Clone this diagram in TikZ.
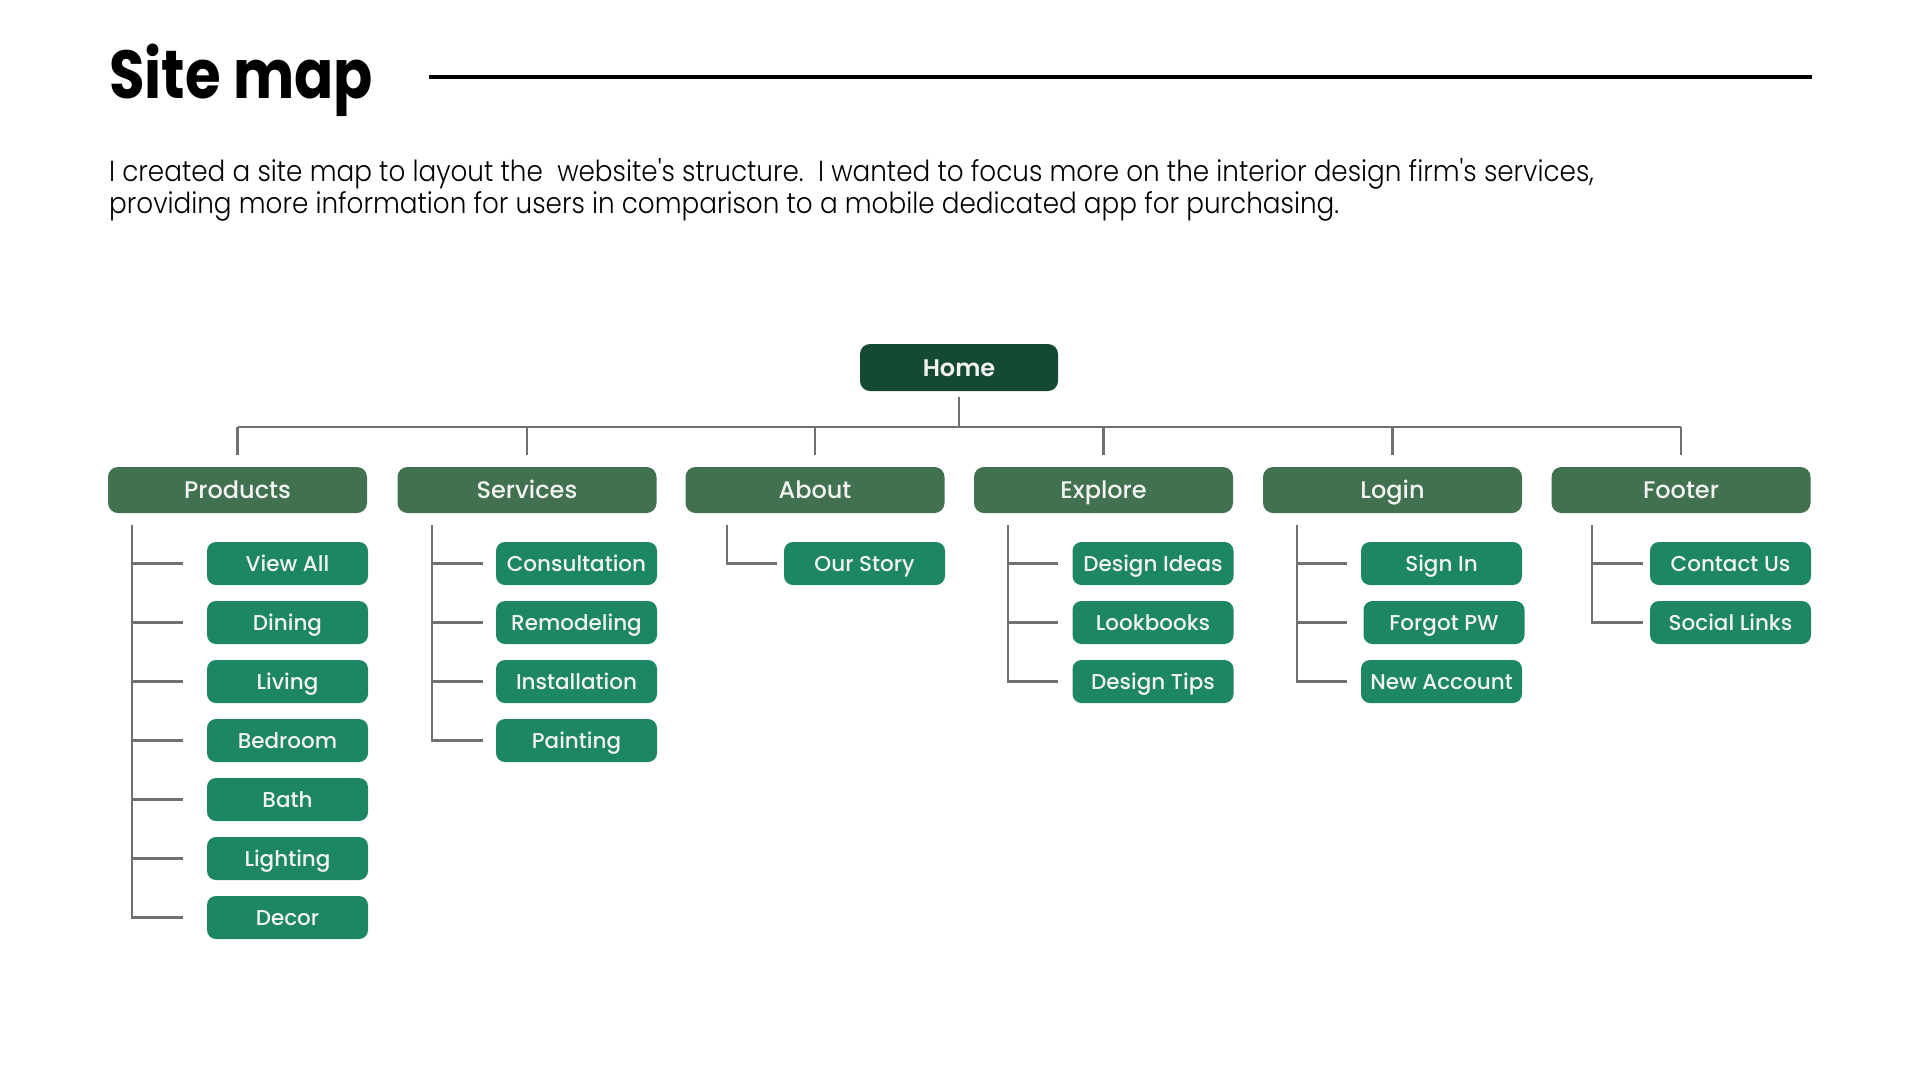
\documentclass[tikz,border=0pt]{standalone}
\usepackage{fontspec}
\newfontfamily\titlefont{Poppins Bold}[FakeStretch=0.85]
\newfontfamily\bodyfont{Poppins Light}[FakeStretch=0.905]
\newfontfamily\medfont{Poppins Medium}
\newfontfamily\semifont{Poppins SemiBold}
\definecolor{homegreen}{HTML}{134A31}
\definecolor{catgreen}{HTML}{41714F}
\definecolor{itemgreen}{HTML}{1C8760}
\definecolor{linegray}{HTML}{707070}
\definecolor{labelwhite}{HTML}{F2F2F2}
\begin{document}
\begin{tikzpicture}[x=1pt,y=1pt,
  conn/.style={draw=linegray, line width=2.2pt},
  homebox/.style={fill=homegreen, rounded corners=10pt, minimum width=198pt, minimum height=47pt, inner sep=0pt, text=labelwhite, font=\semifont\fontsize{24}{24}\selectfont, text height=17pt, text depth=0pt},
  catbox/.style={fill=catgreen, rounded corners=10pt, minimum width=259pt, minimum height=46pt, inner sep=0pt, text=labelwhite, font=\medfont\fontsize{24}{24}\selectfont, text height=17pt, text depth=0pt},
  itembox/.style={fill=itemgreen, rounded corners=9pt, minimum width=161pt, minimum height=43pt, inner sep=0pt, text=labelwhite, font=\medfont\fontsize{21.5}{21.5}\selectfont, text height=15pt, text depth=0pt},
  txt/.style={anchor=base west, inner sep=0pt, text=black}]
\useasboundingbox[fill=white] (0,0) rectangle (1920,-1080);

% title and rule
\node[txt, font=\titlefont\fontsize{68}{68}\selectfont] (title) at (109,-98) {Site map};
\coordinate (rl) at (429,-77);
\coordinate (rr) at (1812,-77);
\draw[line width=3.5pt] (rl) -- (rr);

% description
\node[txt, font=\bodyfont\fontsize{29}{32}\selectfont] (desc1) at (109,-181) {I created a site map to layout the\ \ website's structure.\ \ I wanted to focus more on the interior design firm's services,};
\node[txt, font=\bodyfont\fontsize{29}{32}\selectfont] (desc2) at (109,-213) {providing more information for users in comparison to a mobile dedicated app for purchasing.};

% home and categories
\node[homebox] (home) at (959,-367.5) {Home};
\node[catbox] (prod) at (237.5,-490) {Products};
\node[catbox] (serv) at (527,-490) {Services};
\node[catbox] (about) at (815,-490) {About};
\node[catbox] (expl) at (1103.5,-490) {Explore};
\node[catbox] (login) at (1392.5,-490) {Login};
\node[catbox] (foot) at (1681,-490) {Footer};

% bus
\draw[conn] ([yshift=-6pt]home.south) -- (home.south |- 0,-427);
\draw[conn] (prod.north |- 0,-427) -- (foot.north |- 0,-427);
\foreach \c in {prod,serv,about,expl,login,foot}
  \draw[conn] (\c.north |- 0,-427) -- ([yshift=12pt]\c.north);

% items: Products
\node[itembox] (viewall) at (287.5,-563.5) {View All};
\node[itembox] (dining) at (287.5,-622.5) {Dining};
\node[itembox] (living) at (287.5,-681.5) {Living};
\node[itembox] (bedroom) at (287.5,-740.5) {Bedroom};
\node[itembox] (bath) at (287.5,-799.5) {Bath};
\node[itembox] (lighting) at (287.5,-858.5) {Lighting};
\node[itembox] (decor) at (287.5,-917.5) {Decor};
% Services
\node[itembox] (consult) at (576.5,-563.5) {Consultation};
\node[itembox] (remodel) at (576.5,-622.5) {Remodeling};
\node[itembox] (install) at (576.5,-681.5) {Installation};
\node[itembox] (paint) at (576.5,-740.5) {Painting};
% About
\node[itembox] (story) at (864.5,-563.5) {Our Story};
% Explore
\node[itembox] (ideas) at (1153,-563.5) {Design Ideas};
\node[itembox] (lookb) at (1153,-622.5) {Lookbooks};
\node[itembox] (tips) at (1153,-681.5) {Design Tips};
% Login
\node[itembox] (signin) at (1441.5,-563.5) {Sign In};
\node[itembox] (forgot) at (1444,-622.5) {Forgot PW};
\node[itembox] (newacc) at (1441.5,-681.5) {New Account};
% Footer
\node[itembox] (contact) at (1730.5,-563.5) {Contact Us};
\node[itembox] (social) at (1730.5,-622.5) {Social Links};

% spines
\coordinate (pS) at (132,-525);  \coordinate (pE) at (183,-525);
\coordinate (sS) at (432,-525);  \coordinate (sE) at (483,-525);
\coordinate (aS) at (727,-525);  \coordinate (aE) at (777,-525);
\coordinate (eS) at (1008,-525); \coordinate (eE) at (1058,-525);
\coordinate (lS) at (1297,-525); \coordinate (lE) at (1347,-525);
\coordinate (fS) at (1592,-525); \coordinate (fE) at (1643,-525);

\foreach \i in {viewall,dining,living,bedroom,bath,lighting,decor}
  \draw[conn] (pS) |- (pE |- \i.west);
\foreach \i in {consult,remodel,install,paint}
  \draw[conn] (sS) |- (sE |- \i.west);
\draw[conn] (aS) |- (aE |- story.west);
\foreach \i in {ideas,lookb,tips}
  \draw[conn] (eS) |- (eE |- \i.west);
\foreach \i in {signin,forgot,newacc}
  \draw[conn] (lS) |- (lE |- \i.west);
\foreach \i in {contact,social}
  \draw[conn] (fS) |- (fE |- \i.west);
\end{tikzpicture}
\end{document}
